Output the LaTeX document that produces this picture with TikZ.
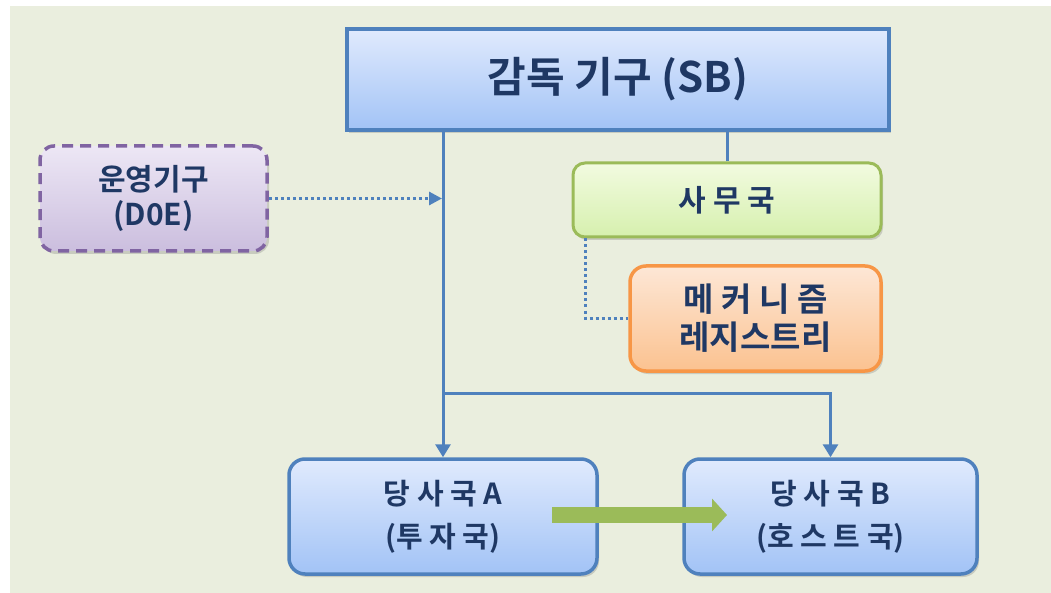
\documentclass[tikz,border=0pt]{standalone}
\usepackage{fontspec}
\newfontfamily\kr{Noto Sans CJK KR}[BoldFont={Noto Sans CJK KR Bold}]
\usetikzlibrary{arrows.meta,shadows,calc}
\definecolor{bgc}{RGB}{234,238,222}
\definecolor{navy}{RGB}{31,56,100}
\definecolor{bline}{RGB}{79,129,189}
\definecolor{btop}{RGB}{224,234,253}
\definecolor{bbot}{RGB}{162,195,246}
\definecolor{pline}{RGB}{128,100,162}
\definecolor{ptop}{RGB}{237,231,245}
\definecolor{pbot}{RGB}{203,190,222}
\definecolor{gline}{RGB}{155,187,89}
\definecolor{gtop}{RGB}{242,251,224}
\definecolor{gbot}{RGB}{214,240,174}
\definecolor{oline}{RGB}{247,150,70}
\definecolor{otop}{RGB}{253,231,214}
\definecolor{obot}{RGB}{251,194,144}
\definecolor{garrow}{RGB}{155,187,89}
\tikzset{
  box/.style={inner sep=0pt, align=center, text=navy, font=\kr\bfseries,
    drop shadow={shadow xshift=2pt, shadow yshift=-3pt, opacity=0.25, fill=black!60}},
  bluebox/.style={box, draw=bline, line width=3.5pt, top color=btop, bottom color=bbot},
  purplebox/.style={box, draw=pline, line width=3.5pt, dash pattern=on 11pt off 7pt,
    rounded corners=14pt, top color=ptop, bottom color=pbot},
  greenbox/.style={box, draw=gline, line width=3pt, rounded corners=12pt, top color=gtop, bottom color=gbot},
  orangebox/.style={box, draw=oline, line width=3.5pt, rounded corners=16pt, top color=otop, bottom color=obot},
  conn/.style={draw=bline, line width=3pt},
  tip/.style={-{Triangle[length=13pt,width=15pt]}},
  dotconn/.style={draw=bline, line width=3pt, dash pattern=on 3pt off 3pt},
  bigarrow/.style={draw=garrow, line width=16pt, -{Triangle[length=15pt,width=32pt]}},
}
\begin{document}
\begin{tikzpicture}[x=1pt,y=-1pt]
\useasboundingbox (0,0) rectangle (1051,593);
\fill[white] (0,0) rectangle (1051,593);
\fill[bgc] (10,6) rectangle (1051,593);

\node[bluebox, minimum width=542pt, minimum height=101pt, font=\kr\bfseries\fontsize{42}{48}\selectfont] (SB) at (618,79.5) {\raisebox{-5pt}{감독 기구 (SB)}};
\node[purplebox, minimum width=227pt, minimum height=105pt, font=\kr\bfseries\fontsize{30}{35}\selectfont] (DOE) at (153.5,198.5) {운영기구\\(D0E)};
\node[greenbox, minimum width=308pt, minimum height=74pt, font=\kr\bfseries\fontsize{30}{34}\selectfont] (SEC) at (727,200) {사 무 국};
\node[orangebox, minimum width=251pt, minimum height=105pt, font=\kr\bfseries\fontsize{33}{38}\selectfont] (MECH) at (755.5,318.5) {메 커 니 즘\\레지스트리};
\node[bluebox, rounded corners=16pt, minimum width=308pt, minimum height=115pt, font=\kr\bfseries\fontsize{29}{43}\selectfont] (PA) at (443,516.5) {당 사 국 A\\(투 자 국)};
\node[bluebox, rounded corners=16pt, minimum width=293pt, minimum height=115pt, font=\kr\bfseries\fontsize{29}{43}\selectfont] (PB) at (830.5,516.5) {당 사 국 B\\(호 스 트 국)};

\coordinate (BR) at (443,393);
\coordinate (GS) at (552,515);
\coordinate (GE) at (727,515);

\draw[conn, tip] (PA.north |- SB.south) -- (PA.north);
\draw[conn] (SEC.north) -- (SEC.north |- SB.south);
\draw[conn, tip] (BR) -| (PB.north);
\draw[dotconn, -{Triangle[length=13pt,width=13pt]}] (DOE.east) -- ($(DOE.east -| PA.north)+(-1,0)$);
\draw[dotconn] ($(SEC.south west)+(14,0)$) |- (MECH.west);
\draw[bigarrow] (GS) -- (GE);
\end{tikzpicture}
\end{document}
